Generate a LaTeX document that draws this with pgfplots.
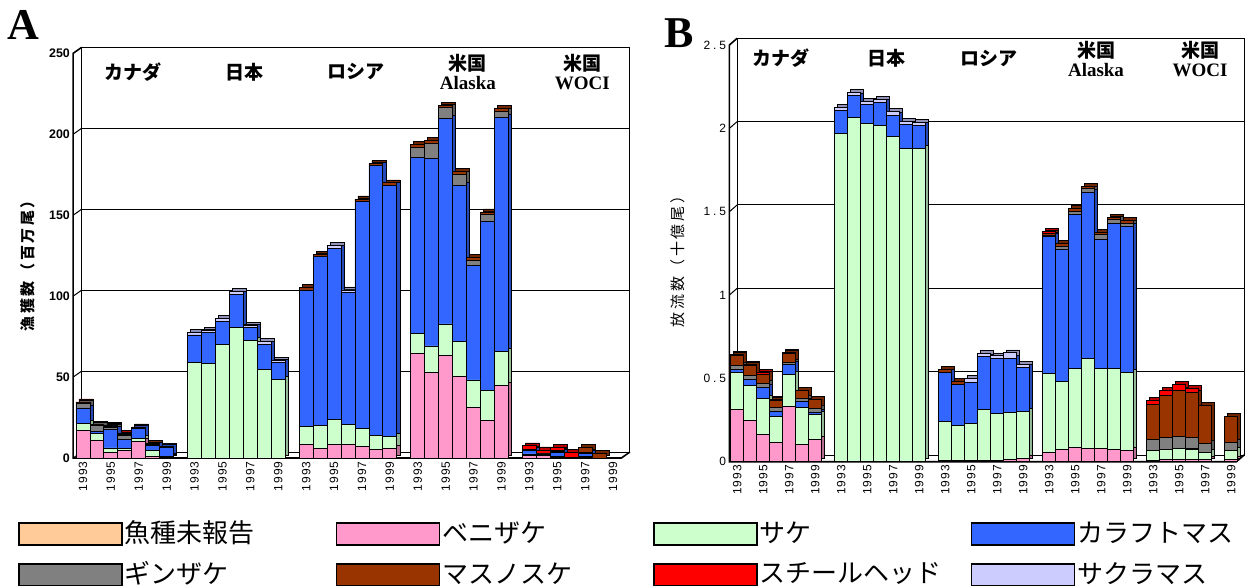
\documentclass[border=0pt]{standalone}
\usepackage{pgfplots}
\pgfplotsset{compat=1.18}
\usepackage{pgfplotstable}
\usepackage{fontspec}
\setmainfont{Liberation Sans}
\newfontfamily\jp{Noto Sans CJK JP}
\newfontfamily\tms{Liberation Serif}

\definecolor{cUnrep}{HTML}{FFCC99}
\definecolor{cSock}{HTML}{FF99CC}
\definecolor{cChum}{HTML}{CCFFCC}
\definecolor{cPink}{HTML}{3366FF}
\definecolor{cCoho}{HTML}{808080}
\definecolor{cChin}{HTML}{993300}
\definecolor{cSteel}{HTML}{FF0000}
\definecolor{cCherry}{HTML}{CCCCFF}

% Catch (million fish): x = slot (group*8 + year-1993)
\pgfplotstableread{
x un so ch pk co cn st cb
0 0 17.1 4.1 9.7 2.7 0.4 0.6 0
1 0 10.9 4.1 1.6 3.5 0.3 0.6 0
2 0 3.7 2.5 11.3 1.6 0.3 0.8 0
3 0 4.7 1.0 5.8 2.5 0.3 0.8 0
4 0 10.3 1.6 6.2 0.3 0.8 0 0
5 0 1.2 3.5 3.1 0.3 0.9 0 0
6 0 0.3 0.8 5.6 0.2 0.5 0 0
8 0 0 59 17 0 0 0 1.5
9 0 0 58.5 19 0 0 0 1.5
10 0 0 70.4 14.2 0 0 0 1.6
11 0 0 80.7 20.4 0 0 0 1.6
12 0 0 72.5 8 0 0 0 1.6
13 0 0 54.8 15.6 0 0 0 1.6
14 0 0 48.8 10.1 0 0 0 1.6
16 0 8.6 10.8 84.4 0 1.6 0 0
17 0 6 14 104.4 0 1.6 0 0
18 0 8.4 15.5 105.6 0 0 0 1.7
19 0 8.6 12.4 81.1 0 0 0 1.7
20 0 7.4 10.9 140 0 1.7 0 0
21 0 5.4 8.6 166.6 0 1.4 0 0
22 0 6 7.2 155.4 0 1.4 0 0
24 0 64.6 12.4 108.7 6.2 1.6 0 0
25 0 52.7 16.5 115.9 9.3 1.6 0 0
26 0 63.6 19.2 127 6.6 1.6 0 0
27 0 50.6 21.3 96.7 6.8 1.6 0 0
28 0 31.3 16.9 71 3.1 1.7 0 0
29 0 23 19 104 4.5 1.5 0 0
30 0 44.7 21 144.5 4.1 1.7 0 0
32 0 1.5 1 2 1 0 2 0
33 0 1.5 0.5 0 0.5 0.5 2 0
34 0 0.5 0.5 2.5 0.5 0.5 2 0
35 0 0 0 0 0 0.5 3 0
36 0 0.5 0.5 2 0.5 3 0 0
37 0 0 0 0 0 3 0 0
}\tA

% Releases (billion fish)
\pgfplotstableread{
x un so ch pk co cn st cb
0 0 .312 .224 .016 .028 .056 .008 0
1 0 .246 .21 .04 .024 .056 .008 0
2 0 .162 .218 .066 .026 .054 .008 0
3 0 .116 .154 .032 .024 .04 .008 0
4 0 .332 .194 .056 .014 .056 .002 0
5 0 .102 .224 .034 .02 .046 0 0
6 0 .132 .154 .01 .024 .056 0 0
8 0 0 1.968 .14 0 0 0 .02
9 0 0 2.064 .131 0 0 0 .02
10 0 0 2.028 .113 0 0 0 .02
11 0 0 2.018 .137 0 0 0 .02
12 0 0 1.954 .126 0 0 0 .02
13 0 0 1.880 .144 0 0 0 .02
14 0 0 1.878 .14 0 0 0 .02
16 0 .005 .238 .291 0 .018 0 0
17 0 .005 .212 .247 0 .018 0 0
18 0 .005 .222 .251 0 0 0 .02
19 0 .005 .306 .318 0 0 0 .02
20 0 .005 .286 .327 0 0 0 .017
21 0 .016 .281 .321 0 0 0 .035
22 0 .022 .279 .267 0 0 0 .016
24 0 .056 .476 .819 .005 .012 .015 0
25 0 .076 .406 .789 .02 .02 0 0
26 0 .086 .472 .924 .02 .016 0 0
27 0 .080 .538 .998 .021 .016 0 0
28 0 .080 .478 .777 .026 .015 0 0
29 0 .072 .486 .870 .024 .016 0 0
30 0 .070 .464 .878 .02 .016 0 0
32 0 .01 .058 0 .066 .21 .024 0
33 0 .014 .062 0 .068 .256 .03 0
34 0 .016 .064 0 .07 .28 .034 0
35 0 .014 .062 .005 .066 .266 .028 0
36 0 .016 .04 0 .054 .226 0 0
38 0 .016 .054 0 .046 .158 0 0
}\tB

\def\YrA{1\kern.5pt9\kern.5pt9\kern.5pt3}
\def\YrB{1\kern.5pt9\kern.5pt9\kern.5pt5}
\def\YrC{1\kern.5pt9\kern.5pt9\kern.5pt7}
\def\YrD{1\kern.5pt9\kern.5pt9\kern.5pt9}
\def\dt{\kern1.4pt.\kern1.4pt}
\def\k{\kern1.3pt}

\pgfplotsset{
  dep/.style={fill=#1!72!black, draw=black, line width=0.3pt, xshift=1.5pt, yshift=1.5pt},
  fr/.style={fill=#1, draw=black, line width=0.4pt,
    legend image code/.code={\draw[fill=#1, draw=black, line width=0.7pt] (0pt,-5.75pt) rectangle (51.5pt,5.25pt);}},
  Apos/.style={scale only axis, anchor=south west, at={(36.6pt,63.5pt)},
    width=274.1pt, height=202.35pt, xmin=-0.7, xmax=38.6, ymin=0, ymax=250},
  Bpos/.style={scale only axis, anchor=south west, at={(364.7pt,61.65pt)},
    width=253.5pt, height=208.35pt, xmin=-0.6, xmax=38.4, ymin=0, ymax=2.5},
  bars/.style={ybar stacked, bar width=1, hide axis, clip=false},
  ticks/.style={clip=false, axis line style={draw=none}, major tick length=0pt,
    xtick={0,2,...,38},
    xticklabels={\YrA,\YrB,\YrC,\YrD,\YrA,\YrB,\YrC,\YrD,\YrA,\YrB,\YrC,\YrD,\YrA,\YrB,\YrC,\YrD,\YrA,\YrB,\YrC,\YrD},
    xticklabel style={rotate=90, anchor=east, font=\fontsize{6}{7}\selectfont, inner sep=1.5pt}},
}

\newcommand\stackall[2]{%
  \addplot[#2=cUnrep] table[x=x,y=un]{#1};
  \addplot[#2=cSock] table[x=x,y=so]{#1};
  \addplot[#2=cChum] table[x=x,y=ch]{#1};
  \addplot[#2=cPink] table[x=x,y=pk]{#1};
  \addplot[#2=cCoho] table[x=x,y=co]{#1};
  \addplot[#2=cChin] table[x=x,y=cn]{#1};
  \addplot[#2=cSteel] table[x=x,y=st]{#1};
  \addplot[#2=cCherry] table[x=x,y=cb]{#1};
}

\begin{document}
\begin{tikzpicture}
\useasboundingbox (0,0) rectangle (622.5pt,292.5pt);

% ---------------- Panel A: walls and ticks
\begin{axis}[Apos, ticks,
  ytick={0,50,100,150,200,250}, yticklabels={0,50,100,150,200,250},
  yticklabel style={font=\bfseries\fontsize{6.2}{7}\selectfont, inner sep=1.5pt}]
  \draw[line width=0.5pt] ([shift={(4.25pt,3pt)}]axis cs:-0.7,0) rectangle ([shift={(4.25pt,3pt)}]axis cs:38.6,250);
  \pgfplotsinvokeforeach{50,100,150,200}{
    \draw[line width=0.5pt] ([shift={(4.25pt,3pt)}]axis cs:-0.7,#1) -- ([shift={(4.25pt,3pt)}]axis cs:38.6,#1);
    \draw[line width=0.5pt] (axis cs:-0.7,#1) -- ([shift={(4.25pt,3pt)}]axis cs:-0.7,#1);
  }
  \draw[line width=0.8pt] ([shift={(4.25pt,3pt)}]axis cs:-0.7,250) -- (axis cs:-0.7,250) -- (axis cs:-0.7,0) -- (axis cs:38.6,0) -- ([shift={(4.25pt,3pt)}]axis cs:38.6,0);
  \draw[line width=0.5pt] (axis cs:-0.7,0) -- ([shift={(4.25pt,3pt)}]axis cs:-0.7,0);
  \node[rotate=90, font=\jp\bfseries\fontsize{7.5}{8}\selectfont] at ([xshift=-22.6pt]axis description cs:0,0.484) {漁\k 獲\k 数\k （\k 百\k 万\k 尾\k ）};
  \node[font=\jp\bfseries\fontsize{9.5}{9.5}\selectfont] at (axis cs:3.6,238.5) {カナダ};
  \node[font=\jp\bfseries\fontsize{9.5}{9.5}\selectfont] at (axis cs:11.6,238.5) {日本};
  \node[font=\jp\bfseries\fontsize{9.5}{9.5}\selectfont] at (axis cs:19.6,238.5) {ロシア};
  \node[align=center, font=\bfseries\fontsize{9.5}{9.5}\selectfont] at (axis cs:27.6,238.5) {{\jp 米国}\\{\tms Alaska}};
  \node[align=center, font=\bfseries\fontsize{9.5}{9.5}\selectfont] at (axis cs:35.8,238.5) {{\jp 米国}\\{\tms WOCI}};
\end{axis}
\begin{axis}[Apos, bars]
  \stackall{\tA}{dep}
\end{axis}
\begin{axis}[Apos, bars,
  legend columns=4, legend cell align=left,
  legend style={at={(axis description cs:-0.1007,-0.1494)}, anchor=north west, draw=none, fill=none,
    font=\jp\fontsize{13}{13.5}\selectfont, column sep=0pt, row sep=6pt, inner sep=0pt, nodes={inner sep=1pt}}]
  \stackall{\tA}{fr}
  \legend{\makebox[104.5pt][l]{魚種未報告},\makebox[104.5pt][l]{ベニザケ},\makebox[104.5pt][l]{サケ},カラフトマス,
          \makebox[104.5pt][l]{ギンザケ},\makebox[104.5pt][l]{マスノスケ},\makebox[104.5pt][l]{スチールヘッド},サクラマス}
\end{axis}

% ---------------- Panel B
\begin{axis}[Bpos, ticks,
  ytick={0,0.5,1,1.5,2,2.5}, yticklabels={0,0\dt5,1,1\dt5,2,2\dt5},
  yticklabel style={font=\fontsize{6}{7}\selectfont, inner sep=1.5pt}]
  \draw[line width=0.5pt] ([shift={(3.85pt,3.35pt)}]axis cs:-0.6,0) rectangle ([shift={(3.85pt,3.35pt)}]axis cs:38.4,2.5);
  \pgfplotsinvokeforeach{0.5,1,1.5,2}{
    \draw[line width=0.5pt] ([shift={(3.85pt,3.35pt)}]axis cs:-0.6,#1) -- ([shift={(3.85pt,3.35pt)}]axis cs:38.4,#1);
    \draw[line width=0.5pt] (axis cs:-0.6,#1) -- ([shift={(3.85pt,3.35pt)}]axis cs:-0.6,#1);
  }
  \draw[line width=0.8pt] ([shift={(3.85pt,3.35pt)}]axis cs:-0.6,2.5) -- (axis cs:-0.6,2.5) -- (axis cs:-0.6,0) -- (axis cs:38.4,0) -- ([shift={(3.85pt,3.35pt)}]axis cs:38.4,0);
  \draw[line width=0.5pt] (axis cs:-0.6,0) -- ([shift={(3.85pt,3.35pt)}]axis cs:-0.6,0);
  \node[rotate=90, font=\jp\fontsize{7.5}{8}\selectfont] at ([xshift=-25.7pt]axis description cs:0,0.489) {放\k 流\k 数\k （\k 十\k 億\k 尾\k ）};
  \node[font=\jp\bfseries\fontsize{9.5}{9.5}\selectfont] at (axis cs:3.4,2.42) {カナダ};
  \node[font=\jp\bfseries\fontsize{9.5}{9.5}\selectfont] at (axis cs:11.5,2.42) {日本};
  \node[font=\jp\bfseries\fontsize{9.5}{9.5}\selectfont] at (axis cs:19.4,2.42) {ロシア};
  \node[align=center, font=\bfseries\fontsize{9.5}{9.5}\selectfont] at (axis cs:27.6,2.415) {{\jp 米国}\\{\tms Alaska}};
  \node[align=center, font=\bfseries\fontsize{9.5}{9.5}\selectfont] at (axis cs:35.6,2.415) {{\jp 米国}\\{\tms WOCI}};
\end{axis}
\begin{axis}[Bpos, bars]
  \stackall{\tB}{dep}
\end{axis}
\begin{axis}[Bpos, bars]
  \stackall{\tB}{fr}
\end{axis}

\node[font=\tms\bfseries\fontsize{22}{22}\selectfont] at (11.5pt,280pt) {A};
\node[font=\tms\bfseries\fontsize{22}{22}\selectfont] at (339.5pt,276pt) {B};
\end{tikzpicture}
\end{document}
